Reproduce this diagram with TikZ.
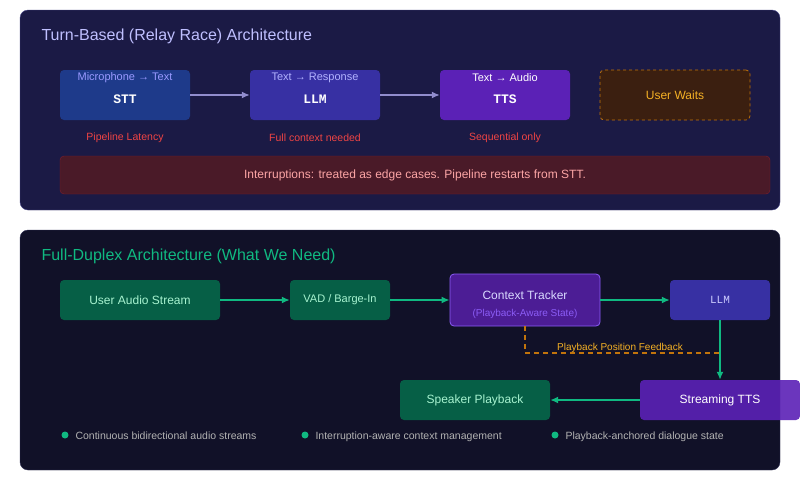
\documentclass[tikz,border=0pt]{standalone}
\usepackage{fontspec}
\setmainfont{Liberation Sans}
\setmonofont{Liberation Mono}
\usepackage{xcolor}
\usetikzlibrary{positioning, arrows.meta}

\definecolor{panelA}{HTML}{1B1A45}
\definecolor{panelAline}{HTML}{4B4A8C}
\definecolor{panelB}{HTML}{111128}
\definecolor{panelBline}{HTML}{34345A}
\definecolor{sttblue}{HTML}{1E3A8A}
\definecolor{llmblue}{HTML}{3730A3}
\definecolor{ttspurple}{HTML}{5B21B6}
\definecolor{waitfill}{HTML}{3B1F10}
\definecolor{waitline}{HTML}{C2740C}
\definecolor{waittext}{HTML}{F5B125}
\definecolor{warnred}{HTML}{EF4444}
\definecolor{intfill}{HTML}{4A1A28}
\definecolor{intline}{HTML}{7F1D2D}
\definecolor{inttext}{HTML}{FCA5A5}
\definecolor{duxgreen}{HTML}{065F46}
\definecolor{duxline}{HTML}{10B981}
\definecolor{greentext}{HTML}{A7F3D0}
\definecolor{ctxfill}{HTML}{4C1D95}
\definecolor{ctxline}{HTML}{8B5CF6}

\begin{document}
\begin{tikzpicture}[x=1pt, y=-1pt,
    every node/.style={font=\fontsize{12}{14}\selectfont},
    lbl/.style={yshift=-2pt},
    box/.style={rounded corners=4pt, minimum height=50pt, inner sep=0pt},
    gbox/.style={box, fill=duxgreen, text=greentext, minimum height=40pt},
    relay/.style={-{Latex[length=8pt,width=7pt]}, line width=1.5pt, llmblue!55!white},
    duplex/.style={-{Latex[length=8pt,width=7pt]}, line width=1.5pt, duxline},
    tag/.style={lbl, text=warnred, font=\fontsize{10.5}{12}\selectfont},
    dot/.style={circle, fill=duxline, inner sep=0pt, minimum size=7pt}]
    \useasboundingbox (0,0) rectangle (800,480);
    \fill[white] (0,0) rectangle (800,480);

    % Turn-based panel
    \draw[rounded corners=8pt, fill=panelA, draw=panelAline] (20,10) rectangle (780,210);
    \node[lbl, anchor=west, text=blue!25!white, font=\fontsize{16}{18}\selectfont] (t1) at (38,34) {Turn-Based (Relay Race) Architecture};

    \node[box, fill=sttblue, minimum width=130pt] (stt) at (125,95) {};
    \node[box, fill=llmblue, minimum width=130pt] (llm) at (315,95) {};
    \node[box, fill=ttspurple, minimum width=130pt] (tts) at (505,95) {};
    \node[box, fill=waitfill, draw=waitline, dashed, thick, minimum width=150pt, text=waittext] (wait) at (675,95) {\raisebox{-2pt}{User Waits}};
    \node[lbl, text=blue!40!white, font=\fontsize{11}{13}\selectfont] at (125,76) {Microphone → Text};
    \node[lbl, text=blue!30!white, font=\fontsize{11}{13}\selectfont] at (315,76) {Text → Response};
    \node[lbl, text=white, font=\fontsize{11}{13}\selectfont] at (505,76) {Text → Audio};
    \node[lbl, text=white, font=\ttfamily\bfseries\fontsize{13}{14}\selectfont] at (125,97) {STT};
    \node[lbl, text=white, font=\ttfamily\bfseries\fontsize{13}{14}\selectfont] at (315,97) {LLM};
    \node[lbl, text=white, font=\ttfamily\bfseries\fontsize{13}{14}\selectfont] at (505,97) {TTS};
    \draw[relay] (stt) -- (llm);
    \draw[relay] (llm) -- (tts);

    \node[tag] (lat) at (125,136) {Pipeline Latency};
    \node[tag] (ctx) at (315,136) {Full context needed};
    \node[tag] (seq) at (505,136) {Sequential only};

    \node[box, fill=intfill, draw=intline, minimum width=710pt, minimum height=38pt, text=inttext] (intr) at (415,175) {\raisebox{-2pt}{Interruptions: treated as edge cases. Pipeline restarts from STT.}};

    % Full-duplex panel
    \draw[rounded corners=8pt, fill=panelB, draw=panelBline] (20,230) rectangle (780,470);
    \node[lbl, anchor=west, text=duxline, font=\fontsize{16}{18}\selectfont] (t2) at (38,254) {Full-Duplex Architecture (What We Need)};

    \node[gbox, minimum width=160pt] (mic) at (140,300) {\raisebox{-2pt}{User Audio Stream}};
    \node[gbox, minimum width=100pt, font=\fontsize{11}{13}\selectfont] (vad) at (340,300) {\raisebox{-2pt}{VAD / Barge-In}};
    \node[box, fill=ctxfill, draw=ctxline, thick, minimum width=150pt, minimum height=52pt] (track) at (525,300) {};
    \node[lbl, text=blue!15!white] at (525,293) {Context Tracker};
    \node[lbl, text=ctxline, font=\fontsize{10}{11}\selectfont] at (525,312) {(Playback-Aware State)};
    \node[box, fill=llmblue, minimum width=100pt, minimum height=40pt, text=blue!20!white, font=\ttfamily\fontsize{11}{12}\selectfont] (brain) at (720,300) {\raisebox{-2pt}{LLM}};
    \node[box, fill=ttspurple, opacity=0.9, minimum width=160pt, minimum height=40pt, text=white, text opacity=1] (voice) at (720,400) {\raisebox{-2pt}{Streaming TTS}};
    \node[gbox, minimum width=150pt] (spk) at (475,400) {\raisebox{-2pt}{Speaker Playback}};

    \draw[duplex] (mic) -- (vad);
    \draw[duplex] (vad) -- (track);
    \draw[duplex] (track) -- (brain);
    \draw[duplex] (brain) -- (voice);
    \draw[duplex] (voice) -- (spk);
    \coordinate (fb) at (720,353);
    \draw[line width=1.5pt, dash pattern=on 5pt off 4pt, waitline] (track.south) |- (fb);
    \node[lbl, text=waittext, font=\fontsize{10}{11}\selectfont] (fbl) at (620,346) {Playback Position Feedback};

    % bullets
    \foreach \x/\txt in {65/Continuous bidirectional audio streams, 305/Interruption-aware context management, 555/Playback-anchored dialogue state}
    {
        \node[dot] (b\x) at (\x,435) {};
        \node[anchor=base west, text=gray!60!white, font=\fontsize{10.5}{12}\selectfont] at (\x+7,439) {\txt};
    }
\end{tikzpicture}
\end{document}
